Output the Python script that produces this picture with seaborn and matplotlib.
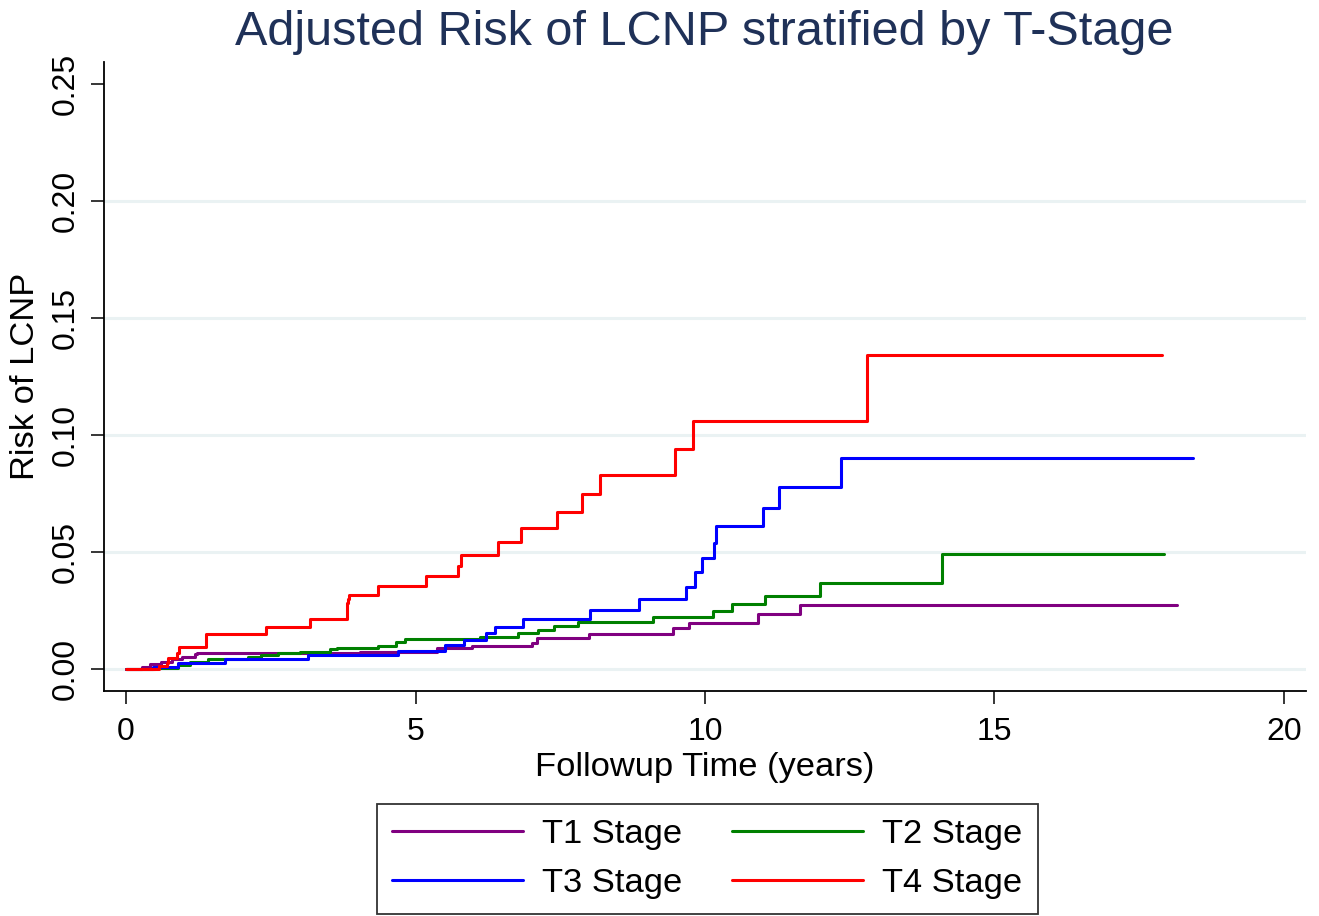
import numpy as np
import pandas as pd
import matplotlib
matplotlib.use("Agg")
import matplotlib.pyplot as plt
import seaborn as sns

# ---- data ----
t1_time = [0, 0.27, 0.42, 0.60, 0.79, 0.96, 1.04, 1.19, 1.22, 4.04, 5.37, 5.97, 7.01, 7.09, 8.00, 9.45, 9.73, 10.92, 11.64, 18.15]
t1_risk = [0, 0.0009, 0.0021, 0.0031, 0.0041, 0.0050, 0.0053, 0.0063, 0.0067, 0.0074, 0.0088, 0.0100, 0.0112, 0.0131, 0.0148, 0.0174, 0.0198, 0.0233, 0.0274, 0.0274]

t2_time = [0, 0.50, 0.90, 1.10, 1.42, 2.11, 2.34, 2.63, 3.00, 3.52, 3.64, 4.35, 4.67, 4.82, 6.12, 6.77, 7.11, 7.39, 7.81, 9.10, 10.14, 10.47, 11.04, 11.98, 14.10, 17.92]
t2_risk = [0, 0.0006, 0.0017, 0.0031, 0.0041, 0.0053, 0.0060, 0.0067, 0.0074, 0.0084, 0.0091, 0.0098, 0.0117, 0.0127, 0.0138, 0.0152, 0.0167, 0.0184, 0.0200, 0.0221, 0.0250, 0.0278, 0.0312, 0.0366, 0.0490, 0.0490]

t3_time = [0, 0.47, 0.90, 1.71, 3.15, 4.70, 5.51, 5.84, 6.21, 6.38, 6.85, 8.02, 8.86, 9.68, 9.83, 9.95, 10.16, 10.19, 11.00, 11.27, 12.35, 18.42]
t3_risk = [0, 0.0010, 0.0027, 0.0041, 0.0060, 0.0078, 0.0102, 0.0124, 0.0153, 0.0181, 0.0214, 0.0252, 0.0298, 0.0352, 0.0413, 0.0473, 0.0540, 0.0611, 0.0689, 0.0779, 0.0903, 0.0903]

t4_time = [0, 0.57, 0.70, 0.73, 0.88, 0.92, 1.39, 2.41, 3.18, 3.82, 3.84, 3.86, 4.36, 5.18, 5.73, 5.79, 6.43, 6.83, 7.45, 7.87, 8.19, 9.49, 9.79, 12.79, 17.89]
t4_risk = [0, 0.0014, 0.0026, 0.0046, 0.0067, 0.0093, 0.0150, 0.0181, 0.0212, 0.0280, 0.0300, 0.0316, 0.0356, 0.0398, 0.0440, 0.0487, 0.0543, 0.0602, 0.0672, 0.0748, 0.0827, 0.0940, 0.1061, 0.1342, 0.1342]

stages = ["T1 Stage", "T2 Stage", "T3 Stage", "T4 Stage"]
colors = ["#800080", "#008000", "#0000FF", "#FF0000"]
x_ticks = [0, 5, 10, 15, 20]
y_ticks = [0.00, 0.05, 0.10, 0.15, 0.20, 0.25]

title = "Adjusted Risk of LCNP stratified by T-Stage"
xlabel = "Followup Time (years)"
ylabel = "Risk of LCNP"

# ---- build long table ----
frames = []
for name, tt, rr in zip(stages, [t1_time, t2_time, t3_time, t4_time],
                        [t1_risk, t2_risk, t3_risk, t4_risk]):
    frames.append(pd.DataFrame({"time": tt, "risk": rr, "stage": name}))
df = pd.concat(frames, ignore_index=True)

sns.set_theme(style="white")
plt.rcParams["font.family"] = ["Liberation Sans", "DejaVu Sans"]
plt.rcParams["text.color"] = "black"

W, H = 1319, 916
fig = plt.figure(figsize=(W / 100, H / 100), dpi=100)
ax = fig.add_axes([104 / W, 1 - 691 / H, (1306 - 104) / W, (691 - 62) / H])

sns.lineplot(data=df, x="time", y="risk", hue="stage", hue_order=stages,
             palette=dict(zip(stages, colors)), estimator=None, sort=False,
             drawstyle="steps-post", linewidth=2.2, ax=ax, legend=True, zorder=3)

handles, labels = ax.get_legend_handles_labels()
ax.get_legend().remove()

ax.set_xlim(-0.38, 20.38)
ax.set_ylim(-0.0094, 0.2594)
ax.set_xticks(x_ticks)
ax.set_yticks(y_ticks)
ax.set_xticklabels([f"{v:g}" for v in x_ticks])
ax.set_yticklabels([f"{v:.2f}" for v in y_ticks], rotation=90, va="center")

ax.grid(axis="y", color="#EAF2F3", linewidth=2.2, zorder=0)
ax.grid(axis="x", visible=False)
ax.yaxis.get_gridlines()[-1].set_visible(False)

for s in ["top", "right"]:
    ax.spines[s].set_visible(False)
for s in ["left", "bottom"]:
    ax.spines[s].set_color("black")
    ax.spines[s].set_linewidth(1.3)

ax.tick_params(axis="both", direction="out", length=9.5, width=1.1, color="black",
               labelsize=23, labelcolor="black", left=True, bottom=True)
ax.tick_params(axis="x", pad=9)
ax.tick_params(axis="y", pad=7)

ax.set_xlabel(xlabel, fontsize=24.8, color="black", labelpad=4)
ax.set_ylabel(ylabel, fontsize=24.8, color="black", labelpad=7)

fig.text(704 / W, 1 - 45 / H, title, ha="center", va="baseline",
         fontsize=35, color="#1F3158")

order = [0, 2, 1, 3]
h2 = [handles[i] for i in order]
l2 = [labels[i] for i in order]
for h in h2:
    h.set_linewidth(2.2)
leg = fig.legend(h2, l2, ncol=2, loc="upper center",
                 bbox_to_anchor=(707.5 / W, 1 - 804 / H),
                 bbox_transform=fig.transFigure, borderaxespad=0,
                 fontsize=24.8, frameon=True, fancybox=False,
                 edgecolor="black", handlelength=3.8, handletextpad=0.55,
                 columnspacing=1.45, labelspacing=0.5, borderpad=0.44)
leg.get_frame().set_linewidth(1.3)
for txt in leg.get_texts():
    txt.set_color("black")

fig.savefig("out.png", dpi=100)
